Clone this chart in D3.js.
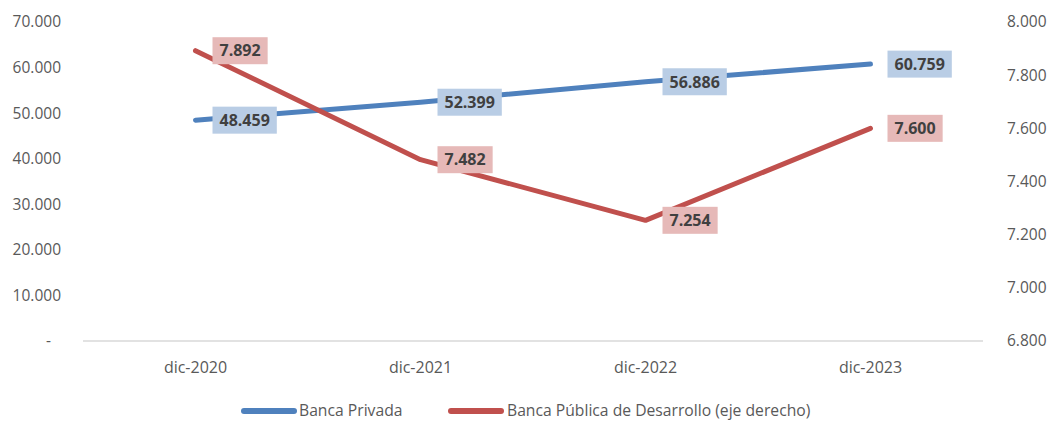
<!DOCTYPE html>
<html><head><meta charset="utf-8">
<script src="https://cdn.jsdelivr.net/npm/d3@7"></script>
<style>body{margin:0;background:#fff}svg{display:block}</style>
</head><body>
<script>
const categories = ["dic-2020","dic-2021","dic-2022","dic-2023"];
const privada = [48459, 52399, 56886, 60759];
const publica = [7892, 7482, 7254, 7600];
const leftTicks = [0,10000,20000,30000,40000,50000,60000,70000];
const rightTicks = [6800,7000,7200,7400,7600,7800,8000];
const seriesNames = ["Banca Privada","Banca Pública de Desarrollo (eje derecho)"];

const W=1051,H=421;
const svg=d3.select("body").append("svg").attr("width",W).attr("height",H);
const font="'Open Sans', sans-serif";
const x=d3.scaleBand().domain(categories).range([83,983]);
const yL=d3.scaleLinear().domain([0,70000]).range([341,22]);
const yR=d3.scaleLinear().domain([6800,8000]).range([341,22]);
const fmtN=d=>(d/1000).toFixed(3);
const fmt=d=>d===0?"-":fmtN(d);

svg.append("g").selectAll("text").data(leftTicks).join("text")
 .attr("x",d=>d===0?51:61).attr("y",d=>yL(d)).attr("dy","0.35em").attr("text-anchor","end")
 .attr("font-family",font).attr("font-size",15.5).attr("fill","#595959").text(fmt);
svg.append("g").selectAll("text").data(rightTicks).join("text")
 .attr("x",1007).attr("y",d=>yR(d)).attr("dy","0.35em").attr("text-anchor","start")
 .attr("font-family",font).attr("font-size",15.5).attr("fill","#595959").text(fmtN);
svg.append("line").attr("x1",83).attr("x2",983).attr("y1",341).attr("y2",341).attr("stroke","#d9d9d9").attr("stroke-width",1.5);
svg.append("g").selectAll("text").data(categories).join("text")
 .attr("x",d=>x(d)+x.bandwidth()/2).attr("y",367).attr("dy","0.35em").attr("text-anchor","middle")
 .attr("font-family",font).attr("font-size",16).attr("fill","#595959").text(d=>d);

const cx=d=>x(d)+x.bandwidth()/2;
const colors=["#4F81BD","#C0504D"], bgs=["#B9CDE5","#E6B9B8"];
const sets=[{v:privada,y:yL},{v:publica,y:yR}];
sets.forEach((s,i)=>{
  const line=d3.line().x((d,j)=>cx(categories[j])).y(d=>s.y(d));
  svg.append("path").attr("d",line(s.v)).attr("fill","none").attr("stroke",colors[i])
   .attr("stroke-width",5).attr("stroke-linecap","round").attr("stroke-linejoin","round");
});
sets.forEach((s,i)=>{
  const g=svg.append("g");
  s.v.forEach((d,j)=>{
    const px=cx(categories[j])+17, py=s.y(d);
    const t=g.append("text").attr("x",px+7).attr("y",py).attr("dy","0.36em")
      .attr("font-family",font).attr("font-size",16).attr("font-weight","bold").attr("fill","#404040").text(fmtN(d));
    const bb=t.node().getBBox();
    g.insert("rect","text").attr("x",px).attr("y",py-13.5).attr("width",bb.width+14).attr("height",27).attr("fill",bgs[i]);
  });
});
const leg=[{x:241,tx:299,t:seriesNames[0],c:colors[0]},{x:448,tx:507,t:seriesNames[1],c:colors[1]}];
leg.forEach(l=>{
  svg.append("line").attr("x1",l.x+3).attr("x2",l.x+53).attr("y1",411).attr("y2",411).attr("stroke",l.c).attr("stroke-width",6).attr("stroke-linecap","round");
  svg.append("text").attr("x",l.tx).attr("y",411).attr("dy","0.35em").attr("font-family",font).attr("font-size",15.7).attr("fill","#595959").text(l.t);
});
</script>
</body></html>
